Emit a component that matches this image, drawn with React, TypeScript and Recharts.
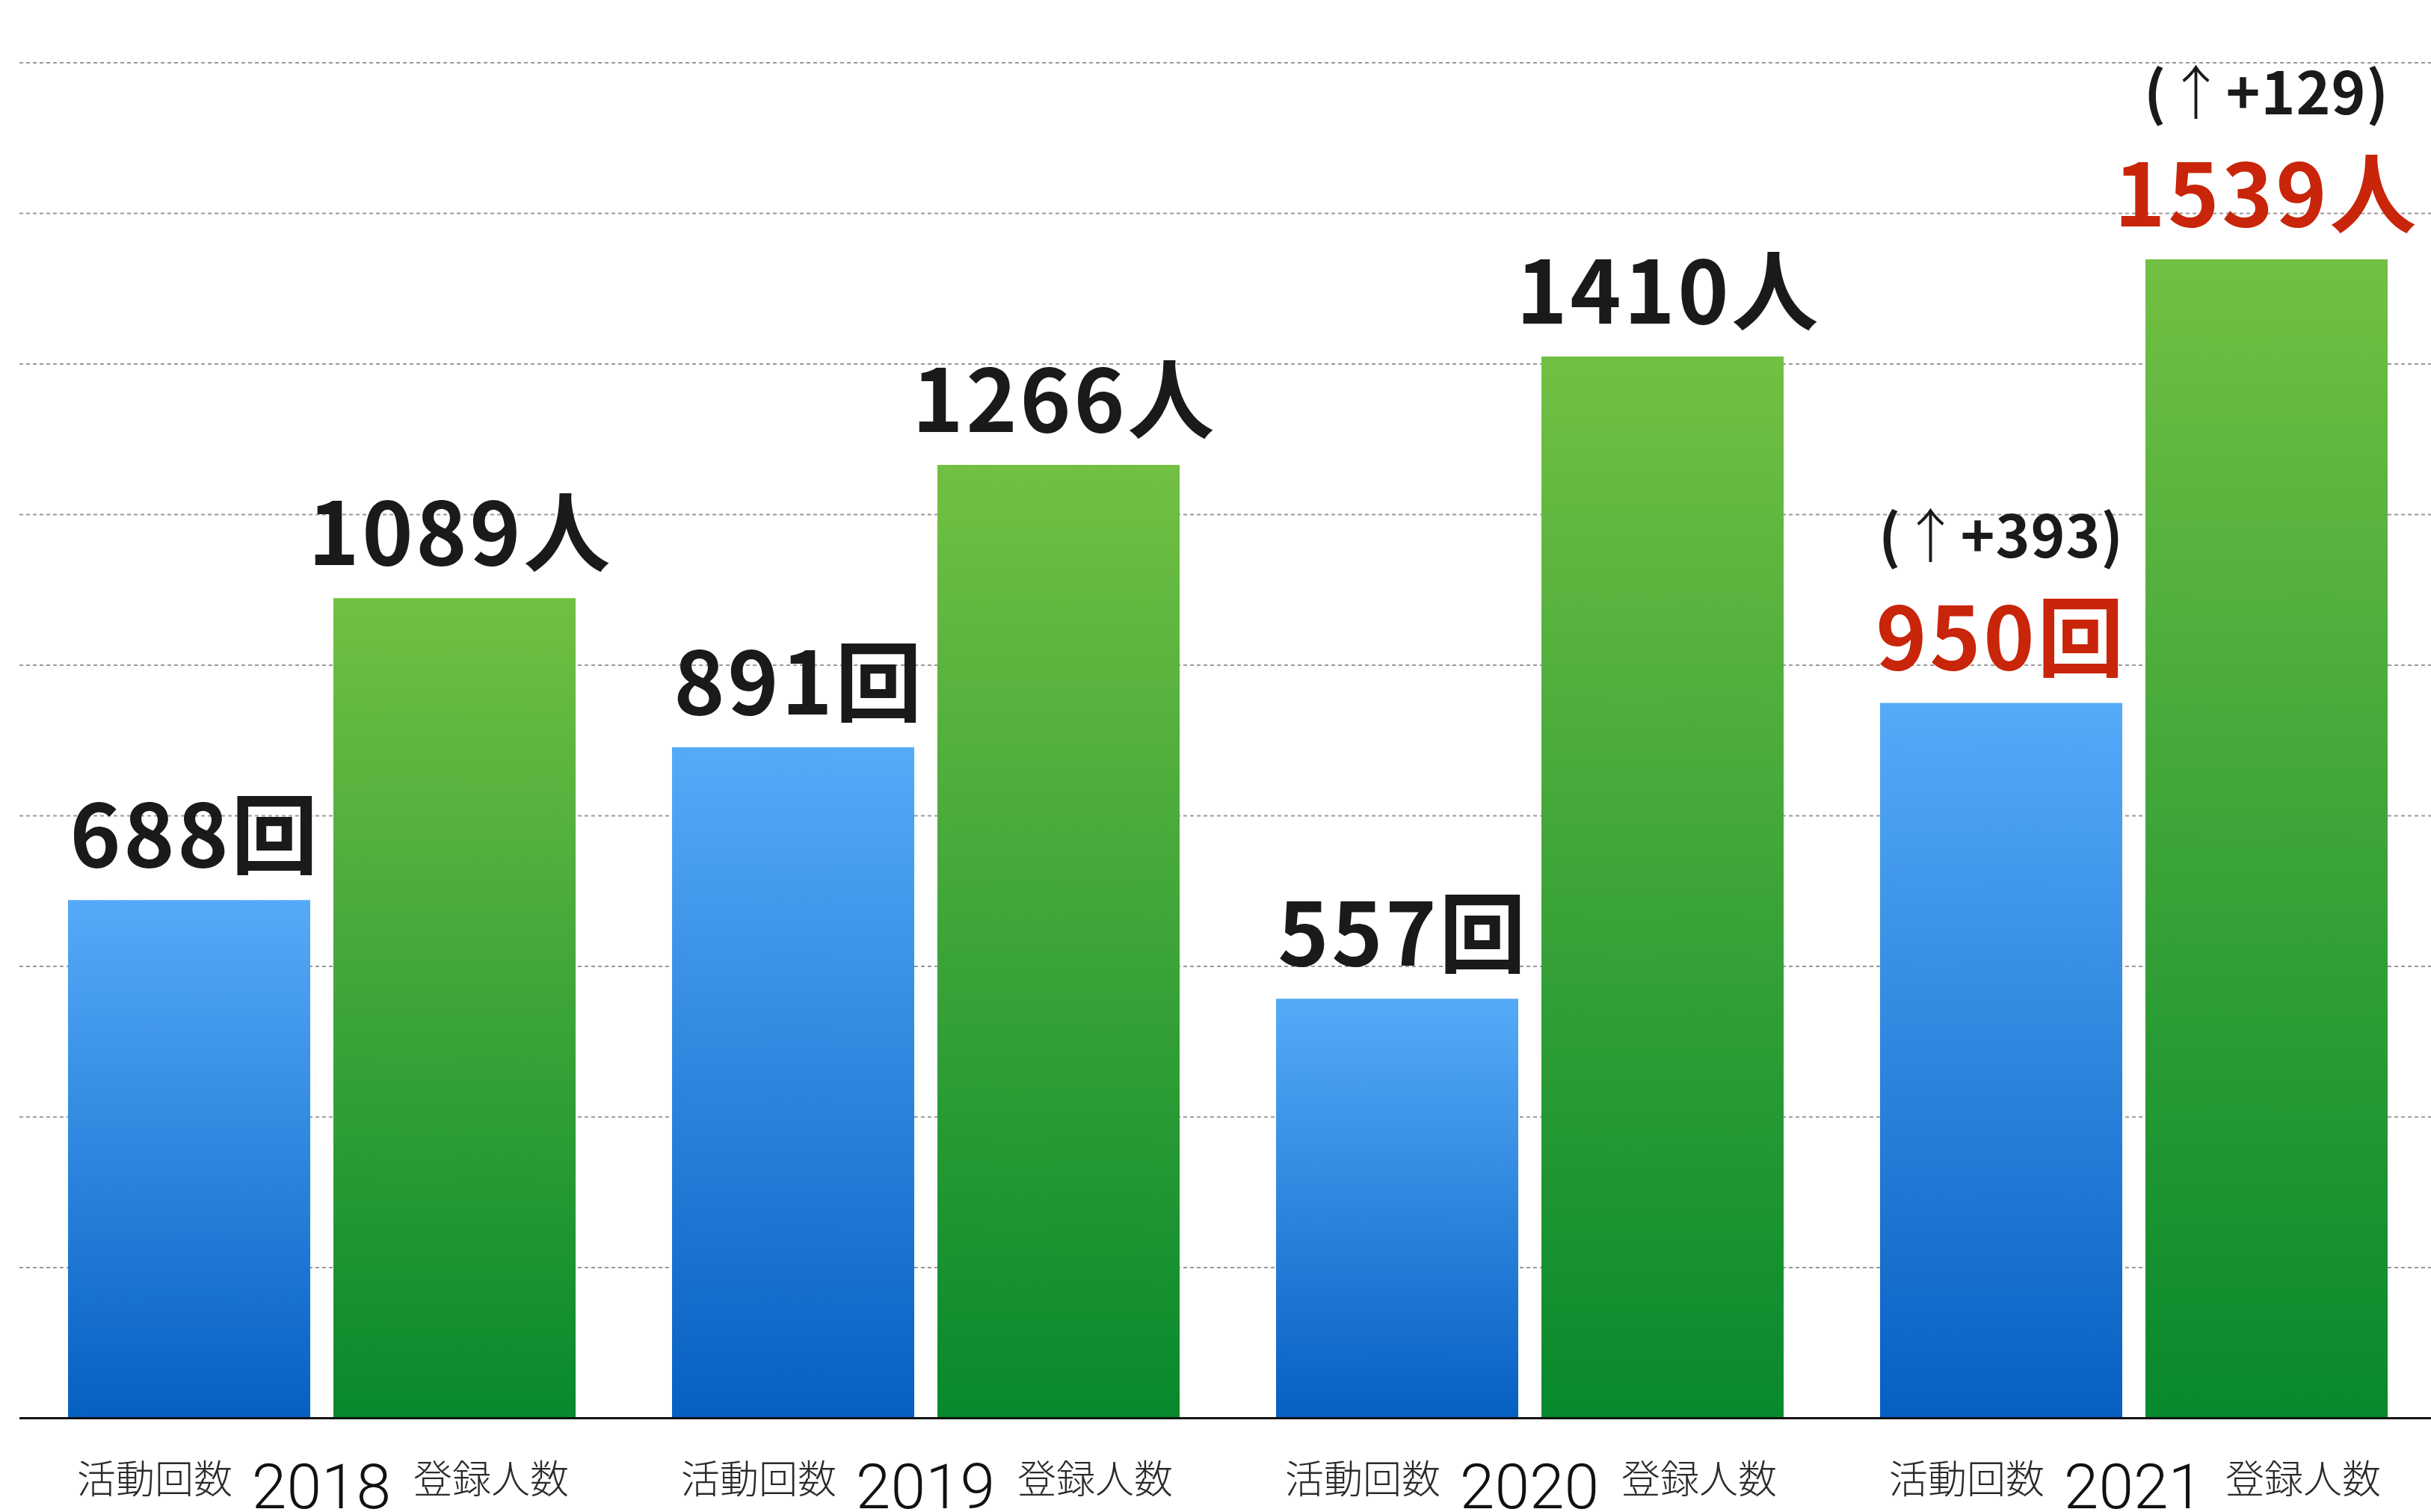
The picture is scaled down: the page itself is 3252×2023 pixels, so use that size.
import React from 'react'
import { BarChart, Bar, XAxis, YAxis, CartesianGrid, LabelList } from 'recharts'

const years = ['2018', '2019', '2020', '2021']
const activityCounts = [688, 891, 557, 950]
const registrations = [1089, 1266, 1410, 1539]
// increase shown above the latest year's values
const activityDelta: (number | null)[] = [null, null, null, 393]
const registrationDelta: (number | null)[] = [null, null, null, 129]
const yTicks = [0, 200, 400, 600, 800, 1000, 1200, 1400, 1600, 1800]
const activityName = '活動回数'
const registrationName = '登録人数'
const activityUnit = '回'
const registrationUnit = '人'

const data = years.map((year, i) => ({
  year,
  activity: activityCounts[i],
  registered: registrations[i],
}))

const JP = '"Noto Sans CJK JP", "Noto Sans", sans-serif'
const DARK = '#1a1a1a'
const RED = '#c8250a'

function valueLabel(unit: string, deltas: (number | null)[]) {
  return (props: any) => {
    const { x, y, width, value, index } = props
    const delta = deltas[index]
    const hot = delta != null
    const cx = x + width / 2 + (hot ? 0 : 8)
    const base = y - 44
    return (
      <g>
        {hot && (
          <text x={cx} y={base - 150} textAnchor="middle" fontFamily={JP} fontSize={78} fontWeight={700} fill={DARK} letterSpacing={1}>
            (<tspan fontWeight={300}>↑</tspan>+{delta})
          </text>
        )}
        <text x={cx} y={base} textAnchor="middle" fontFamily={JP} fontSize={116} fontWeight={700} fill={hot ? RED : DARK} letterSpacing={3.5}>
          {value}
          {unit}
        </text>
      </g>
    )
  }
}

function YearTick(props: any) {
  const { x, y, payload } = props
  return (
    <g>
      <text x={x - 223} y={y + 100} textAnchor="middle" fontFamily={JP} fontSize={52} fontWeight={300} fill="#2a2a2a">
        {activityName}
      </text>
      <text x={x} y={y + 120} textAnchor="middle" fontFamily="Roboto, sans-serif" fontSize={84} fontWeight={300} fill="#111">
        {payload.value}
      </text>
      <text x={x + 227} y={y + 100} textAnchor="middle" fontFamily={JP} fontSize={52} fontWeight={300} fill="#2a2a2a">
        {registrationName}
      </text>
    </g>
  )
}

export default function App() {
  return (
    <div style={{ position: 'absolute', left: 0, top: 0, width: 3252, height: 2023, background: '#fff' }}>
      <BarChart
        width={3252}
        height={2023}
        data={data}
        margin={{ top: 84, right: -6, left: 26, bottom: 0 }}
        barSize={324}
        barGap={31}
      >
        <defs>
          <linearGradient id="blueBar" x1="0" y1="0" x2="0" y2="1">
            <stop offset="0%" stopColor="#55aaf9" />
            <stop offset="100%" stopColor="#0660c2" />
          </linearGradient>
          <linearGradient id="greenBar" x1="0" y1="0" x2="0" y2="1">
            <stop offset="0%" stopColor="#72c043" />
            <stop offset="100%" stopColor="#07892d" />
          </linearGradient>
        </defs>
        <CartesianGrid vertical={false} stroke="#999" strokeWidth={2} strokeDasharray="5 4" />
        <YAxis hide domain={[0, 1800]} ticks={yTicks} />
        <XAxis
          dataKey="year"
          height={125.5}
          tickSize={0}
          tickMargin={0}
          tickLine={false}
          axisLine={{ stroke: '#111', strokeWidth: 3 }}
          tick={<YearTick />}
          interval={0}
        />
        <Bar dataKey="activity" fill="url(#blueBar)" isAnimationActive={false}>
          <LabelList dataKey="activity" content={valueLabel(activityUnit, activityDelta)} />
        </Bar>
        <Bar dataKey="registered" fill="url(#greenBar)" isAnimationActive={false}>
          <LabelList dataKey="registered" content={valueLabel(registrationUnit, registrationDelta)} />
        </Bar>
      </BarChart>
    </div>
  )
}
